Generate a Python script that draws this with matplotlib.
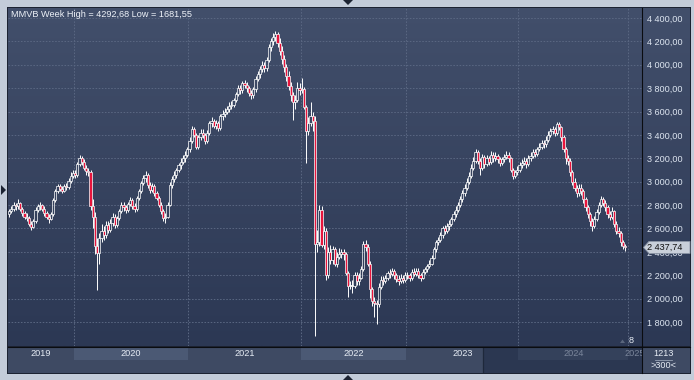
import numpy as np
import matplotlib
matplotlib.use('Agg')
import matplotlib.pyplot as plt
from matplotlib.colors import LinearSegmentedColormap
from matplotlib.collections import LineCollection
from matplotlib.patches import Rectangle, Polygon

plt.rcParams['font.family'] = ['Liberation Sans', 'DejaVu Sans']
plt.rcParams['font.size'] = 6.6

title = 'MMVB Week High = 4292,68 Low = 1681,55'

# weekly candles (open of a week = previous close)
first_open = 2720
closes = [
    2745, 2770, 2800, 2790, 2820, 2770, 2730, 2700, 2690, 2640,
    2615, 2660, 2760, 2790, 2800, 2770, 2730, 2700, 2680, 2720,
    2840, 2920, 2960, 2940, 2920, 2960, 2955, 3010, 3050, 3070,
    # 2020
    3060, 3150, 3200, 3170, 3120, 3090, 3080, 2790, 2700, 2450,
    2390, 2520, 2580, 2540, 2630, 2590, 2650, 2700, 2630, 2690,
    2750, 2800, 2780, 2760, 2810, 2840, 2790, 2770, 2860, 2920,
    2990, 3030, 3060, 2970, 2930, 2960, 2900, 2860, 2800, 2750,
    2690, 2700, 2800, 2970, 3020, 3060, 3100, 3140, 3170, 3200,
    3230, 3280,
    # 2021
    3350, 3450, 3400, 3300, 3380, 3420, 3400, 3350, 3420, 3500,
    3520, 3480, 3500, 3460, 3560, 3580, 3600, 3620, 3650, 3660,
    3700, 3750, 3800, 3780, 3840, 3830, 3800, 3760, 3740, 3790,
    3880, 3920, 3960, 4000, 3970, 4040, 4150, 4200, 4240, 4260,
    4190, 4120, 4050, 3980, 3900, 3820, 3740, 3680, 3700, 3800,
    3780,
    # 2022
    3790, 3640, 3430, 3500, 3560, 3520, 2470, 2480, 2760, 2460,
    2580, 2200, 2400, 2330, 2420, 2300, 2360, 2380, 2400, 2380,
    2220, 2110, 2110, 2110, 2200, 2150, 2180, 2250, 2470, 2440,
    2300, 2080, 1980, 1960, 1950, 2100, 2160, 2150, 2180, 2220,
    2210, 2240, 2200, 2170, 2150, 2180, 2160, 2200,
    # 2023
    2200, 2180, 2230, 2210, 2240, 2200, 2180, 2230, 2250, 2280,
    2300, 2350, 2420, 2480, 2500, 2540, 2600, 2580, 2620, 2640,
    2680, 2720, 2760, 2800, 2850, 2900, 2950, 3000, 3050, 3120,
    3180, 3250, 3180, 3120, 3210, 3150, 3200, 3170, 3230, 3200,
    3220, 3190, 3160, 3190, 3210, 3230, 3200, 3100, 3050, 3080,
    3100,
    # 2024
    3140, 3160, 3180, 3150, 3200, 3220, 3250, 3240, 3280, 3300,
    3330, 3320, 3360, 3400, 3430, 3450, 3420, 3490, 3470, 3380,
    3280, 3200, 3180, 3080, 3000, 2950, 2900, 2950, 2920, 2850,
    2780, 2720, 2660, 2620, 2680, 2740, 2800, 2850, 2820, 2780,
    2720, 2700, 2750, 2640, 2580, 2560, 2480, 2450, 2437.74,
]
highs = [
    2770, 2790, 2830, 2820, 2850, 2830, 2780, 2750, 2730, 2710,
    2660, 2680, 2780, 2810, 2830, 2810, 2790, 2750, 2720, 2740,
    2860, 2940, 2980, 2980, 2960, 2980, 2990, 3030, 3080, 3100,
    3100, 3170, 3228, 3220, 3190, 3140, 3120, 3100, 2850, 2740,
    2520, 2560, 2640, 2620, 2660, 2660, 2680, 2730, 2720, 2710,
    2770, 2830, 2830, 2800, 2830, 2870, 2860, 2820, 2880, 2940,
    3010, 3060, 3090, 3070, 3000, 2990, 2980, 2920, 2880, 2830,
    2770, 2730, 2830, 3000, 3050, 3090, 3120, 3160, 3200, 3230,
    3260, 3300,
    3380, 3480, 3470, 3420, 3400, 3450, 3450, 3420, 3440, 3520,
    3550, 3540, 3530, 3520, 3580, 3610, 3630, 3650, 3680, 3690,
    3720, 3770, 3830, 3830, 3860, 3870, 3850, 3820, 3780, 3810,
    3900, 3950, 3990, 4030, 4020, 4070, 4180, 4230, 4270, 4292.68,
    4280, 4230, 4160, 4080, 4010, 3950, 3850, 3770, 3740, 3850,
    3840,
    3890, 3810, 3660, 3550, 3680, 3600, 3560, 2590, 2800, 2790,
    2620, 2600, 2440, 2460, 2450, 2440, 2400, 2430, 2420, 2420,
    2400, 2240, 2150, 2160, 2230, 2230, 2220, 2280, 2490, 2500,
    2470, 2320, 2100, 2010, 1990, 2130, 2190, 2190, 2200, 2240,
    2250, 2260, 2250, 2220, 2200, 2210, 2200, 2230,
    2230, 2220, 2250, 2260, 2260, 2260, 2220, 2250, 2270, 2300,
    2330, 2370, 2440, 2500, 2530, 2570, 2620, 2630, 2650, 2670,
    2700, 2750, 2790, 2830, 2880, 2930, 2980, 3030, 3080, 3150,
    3210, 3280, 3270, 3200, 3240, 3230, 3230, 3220, 3260, 3250,
    3250, 3240, 3210, 3210, 3240, 3260, 3250, 3210, 3120, 3100,
    3130,
    3170, 3190, 3210, 3200, 3230, 3250, 3280, 3280, 3300, 3330,
    3360, 3360, 3390, 3430, 3460, 3480, 3470, 3510, 3510, 3480,
    3400, 3300, 3230, 3200, 3100, 3030, 2970, 2980, 2980, 2940,
    2870, 2800, 2740, 2690, 2710, 2770, 2830, 2880, 2870, 2840,
    2800, 2750, 2780, 2760, 2660, 2610, 2580, 2500, 2470,
]
lows = [
    2700, 2730, 2750, 2760, 2770, 2750, 2710, 2680, 2660, 2620,
    2590, 2600, 2650, 2740, 2760, 2750, 2710, 2680, 2650, 2670,
    2710, 2830, 2900, 2920, 2900, 2910, 2930, 2940, 2990, 3030,
    3030, 3040, 3130, 3140, 3100, 3060, 3050, 2760, 2600, 2380,
    2073, 2300, 2480, 2500, 2520, 2560, 2570, 2620, 2600, 2610,
    2670, 2730, 2750, 2730, 2740, 2790, 2770, 2740, 2750, 2840,
    2900, 2970, 3000, 2950, 2900, 2910, 2880, 2840, 2780, 2720,
    2660, 2650, 2690, 2790, 2950, 3000, 3030, 3080, 3110, 3150,
    3170, 3210,
    3250, 3330, 3380, 3280, 3280, 3360, 3370, 3320, 3330, 3400,
    3470, 3460, 3450, 3430, 3440, 3530, 3550, 3580, 3600, 3620,
    3640, 3680, 3730, 3750, 3760, 3800, 3770, 3730, 3710, 3720,
    3770, 3860, 3890, 3940, 3940, 3950, 4020, 4120, 4170, 4200,
    4150, 4080, 4010, 3940, 3860, 3780, 3690, 3530, 3620, 3680,
    3740,
    3760, 3620, 3160, 3400, 3480, 3430, 1681.55, 2400, 2450, 2440,
    2420, 2160, 2180, 2300, 2300, 2280, 2270, 2340, 2350, 2330,
    2200, 2015, 2080, 2050, 2090, 2120, 2120, 2170, 2240, 2410,
    2280, 2005, 1940, 1845, 1780, 1930, 2080, 2120, 2130, 2160,
    2180, 2190, 2170, 2140, 2120, 2130, 2130, 2140,
    2170, 2150, 2160, 2190, 2190, 2180, 2150, 2170, 2210, 2230,
    2260, 2290, 2340, 2400, 2460, 2480, 2520, 2550, 2560, 2590,
    2620, 2660, 2700, 2740, 2780, 2830, 2880, 2930, 2980, 3030,
    3100, 3160, 3150, 3060, 3100, 3120, 3130, 3140, 3150, 3170,
    3180, 3160, 3130, 3140, 3170, 3190, 3170, 3080, 3020, 3030,
    3060,
    3080, 3120, 3140, 3120, 3130, 3180, 3200, 3210, 3220, 3260,
    3280, 3290, 3300, 3340, 3380, 3410, 3390, 3400, 3440, 3350,
    3250, 3150, 3140, 3050, 2970, 2920, 2870, 2880, 2890, 2820,
    2750, 2690, 2620, 2580, 2600, 2660, 2720, 2780, 2790, 2750,
    2690, 2670, 2680, 2610, 2550, 2530, 2450, 2420, 2410,
]
opens = [first_open] + closes[:-1]

years = ['2019', '2020', '2021', '2022', '2023', '2024', '2025']
year_start = [-22, 30, 82, 133, 181, 232, 282, 334]   # bar index where each year begins
y_ticks = [1800, 2000, 2200, 2400, 2600, 2800, 3000, 3200, 3400, 3600, 3800, 4000, 4200, 4400]
last_price = closes[-1]
bar_count = '1213'
range_label = '>300<'
marker_label = '8'


def ru(v):
    return f'{v:,.2f}'.replace(',', ' ').replace('.', ',')


W, H = 694, 380
PX_PER_BAR = 2.2
fig = plt.figure(figsize=(W / 100, H / 100), dpi=100)
fig.patch.set_facecolor('#c3ccd9')

# frame drawn in pixel coords
bg = fig.add_axes([0, 0, 1, 1])
bg.axis('off')
bg.add_patch(Rectangle((7, 7), 684, 367, fc='#1c2332', lw=0, zorder=0))
grad = LinearSegmentedColormap.from_list('bg', ['#424f6b', '#2c3854'])
bg.imshow(np.linspace(0, 1, 256).reshape(-1, 1), cmap=grad, extent=(8, 690, 346, 8),
          aspect='auto', interpolation='bilinear', zorder=1)
bg.add_patch(Rectangle((643, 347), 47, 26, fc='#3e4a63', lw=0, zorder=2))
bg.set_xlim(0, W)
bg.set_ylim(H, 0)

# price panel
ax = fig.add_axes([8 / W, 1 - 346 / H, 634 / W, 338 / H])
ax.set_facecolor('none')
xmin, xmax = -0.5, -0.5 + 634 / PX_PER_BAR
for s in ax.spines.values():
    s.set_visible(False)
ax.yaxis.tick_right()
ax.set_yticks(y_ticks)
ax.set_yticklabels([ru(v) for v in y_ticks], color='#dde5f0')
ax.tick_params(axis='y', length=0, pad=3.5)
ax.set_xticks([b - 0.5 for b in year_start if xmin < b - 0.5 < xmax])
ax.tick_params(axis='x', length=0, labelbottom=False)
ax.set_xlim(xmin, xmax)
ax.set_ylim(1594.6, 4485.5)
ax.set_axisbelow(True)
ax.grid(True, color='#5a6782', lw=0.7, linestyle=(0, (1.6, 1.6)))

# candles
bw = 1.0
wicks = []
for i, (o, c, h, l) in enumerate(zip(opens, closes, highs, lows)):
    lo, hi = min(o, c), max(o, c)
    wicks.append([(i, l), (i, lo)])
    wicks.append([(i, hi), (i, h)])
    body_h = max(hi - lo, 6)
    fc = '#e8143c' if c < o else 'none'
    ax.add_patch(Rectangle((i - bw / 2, lo), bw, body_h, fc=fc, ec='white', lw=0.5, zorder=3))
ax.add_collection(LineCollection(wicks, colors='white', linewidths=0.7, zorder=2), autolim=False)

# time axis strip
nav_start = 215.5
ax2 = fig.add_axes([8 / W, 1 - 373 / H, 634 / W, 26 / H])
ax2.set_facecolor('#3e4a63')
for s in ax2.spines.values():
    s.set_visible(False)
ax2.set_xticks([])
ax2.set_yticks([])
ax2.set_xlim(xmin, xmax)
ax2.set_ylim(0, 1)
ax2.axvspan(nav_start, xmax, color='#2b3751', lw=0)
ax2.axvline(nav_start, color='#1e283b', lw=0.9)
for k, yr in enumerate(years):
    s, e = year_start[k] - 0.5, year_start[k + 1] - 0.5
    if k % 2 == 1:
        ax2.axvspan(s, e, ymin=0.5, ymax=1, color='#4b5974' if s < nav_start else '#34415b', lw=0)
    lo, hi = max(s, xmin), min(e, xmax)
    mid = (lo + hi) / 2
    col = '#e6ecf4' if mid < nav_start else '#7b869b'
    ax2.text(mid, 0.74, yr, ha='center', va='center', color=col, clip_on=True)
ax2.set_xlim(xmin, xmax)

# overlay in pixel coords
ov = fig.add_axes([0, 0, 1, 1], zorder=10)
ov.set_facecolor('none')
ov.axis('off')
ov.set_xlim(0, W)
ov.set_ylim(H, 0)
ov.plot([642.5, 642.5], [8, 373], color='#0a0c10', lw=0.8)
ov.plot([8, 690], [346.5, 346.5], color='#0a0c10', lw=0.8)
ov.text(11, 14.5, title, color='#eef2f8', va='center', ha='left')

fig.canvas.draw()
y_last = H - ax.transData.transform((0, last_price))[1]
ov.add_patch(Polygon([(643.5, y_last), (649, y_last - 6), (690, y_last - 6), (690, y_last + 6),
                      (649, y_last + 6)], closed=True, fc='#c9d0da', ec='#8c96a6', lw=0.6))
ov.text(647.5, y_last + 0.3, ru(last_price), color='#101010', va='center', ha='left')

ov.add_patch(Polygon([(620, 343), (625, 343), (622.5, 339.5)], closed=True, fc='#5a667d', lw=0))
ov.text(631, 340.5, marker_label, color='#e6ecf4', va='center', ha='center')
ov.text(663.5, 353, bar_count, color='#e6ecf4', va='center', ha='center')
ov.plot([655, 672], [359.5, 359.5], color='#9aa4b6', lw=0.6)
ov.text(663.5, 365.5, range_label, color='#e6ecf4', va='center', ha='center')

# little scroll arrows on the frame
ov.add_patch(Polygon([(1, 185), (6, 190), (1, 195)], closed=True, fc='#1c2332', lw=0))
ov.add_patch(Polygon([(343, 0), (353, 0), (348, 5)], closed=True, fc='#1c2332', lw=0))
ov.add_patch(Polygon([(343, 380), (353, 380), (348, 375)], closed=True, fc='#1c2332', lw=0))

fig.savefig('out.png', dpi=100, facecolor=fig.get_facecolor())
